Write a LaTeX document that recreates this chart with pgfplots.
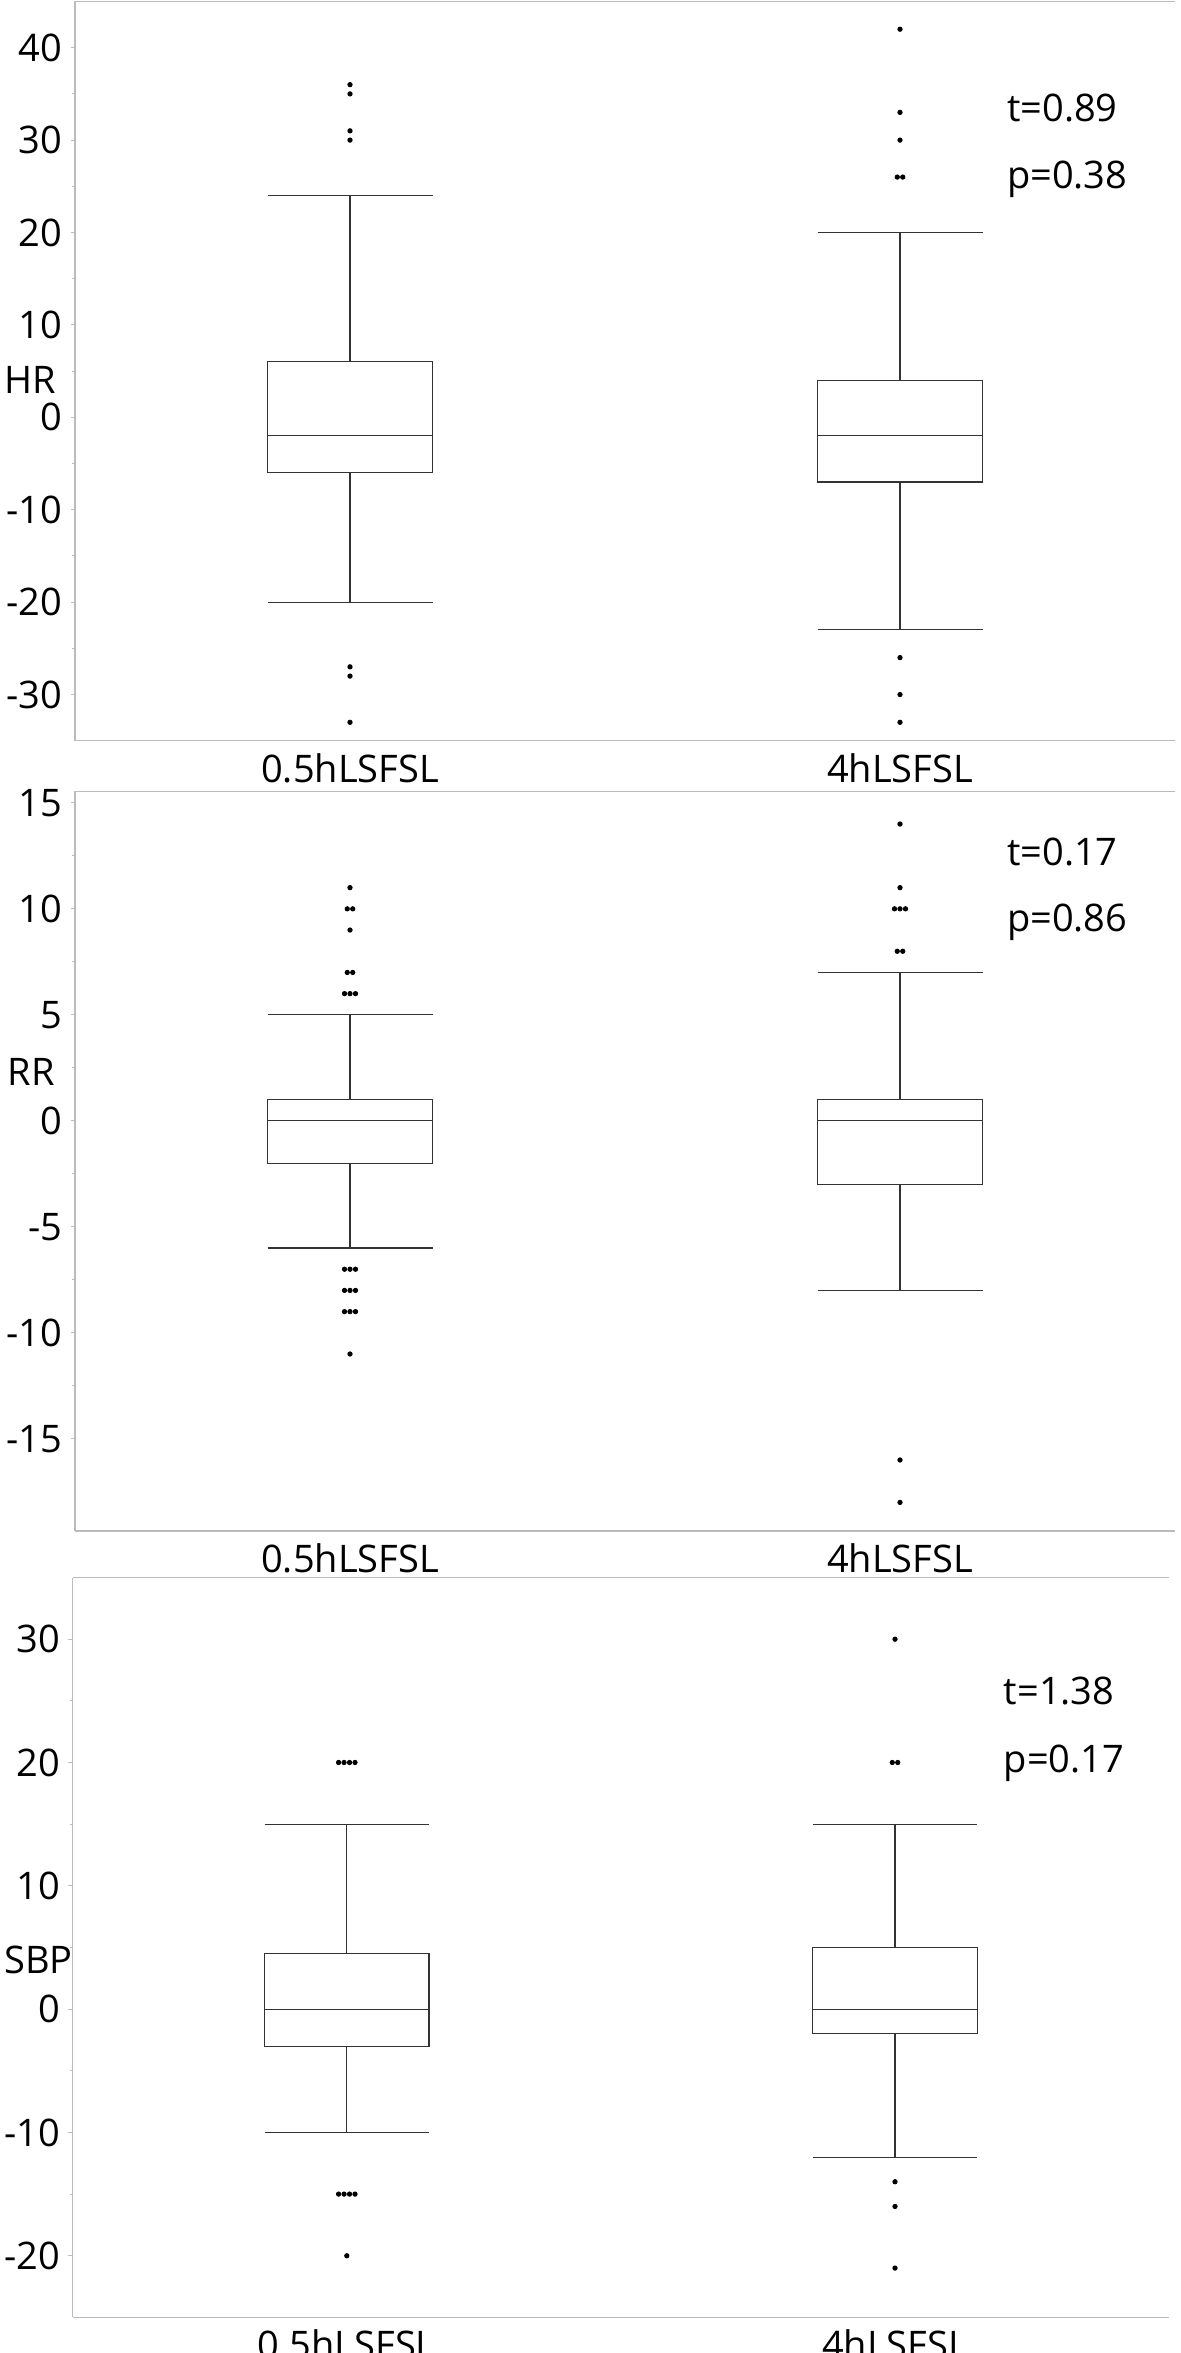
\documentclass[border=0pt]{standalone}
\usepackage{fontspec}
\setmainfont{Open Sans}
\usepackage{pgfplots}
\pgfplotsset{compat=1.18}
\usepgfplotslibrary{statistics}
\definecolor{axiscol}{HTML}{BBBBBB}
\definecolor{boxcol}{HTML}{333333}
\newcommand{\fs}{\fontsize{19}{23}\selectfont}
\pgfplotsset{
  panel/.style={
    scale only axis,
    xmin=0.5, xmax=2.5,
    axis x line*=bottom, axis y line*=left,
    axis line style={draw=axiscol, line width=0.6pt},
    xtick={1,2}, xticklabels={0.5hLSFSL, 4hLSFSL},
    x tick style={draw=none},
    xticklabel style={anchor=base, inner sep=0pt, yshift=-18.5pt},
    y tick style={draw=axiscol, line width=0.5pt},
    tick align=outside,
    major tick length=2.2pt, minor tick length=1.5pt,
    minor y tick num=1,
    yticklabel style={inner sep=0pt, xshift=-4pt},
    /pgf/number format/assume math mode=true,
    tick label style={font=\fs},
    label style={font=\fs},
    ylabel style={rotate=-90, anchor=west, inner sep=0pt},
    boxplot/draw direction=y,
    clip=false,
  },
  bx/.style={draw=boxcol, line width=0.6pt, solid},
  out/.style={only marks, mark=*, mark size=1.1pt, black},
}
\newcommand{\stat}[2]{\node[anchor=base west, inner sep=0pt, font=\fs] at (axis description cs:#1) {#2};}
\begin{document}
\begin{tikzpicture}
% ---------- HR ----------
\begin{axis}[panel, anchor=north west, at={(37.5pt,-0.75pt)},
  width=550pt, height=369.65pt,
  ymin=-35, ymax=45, ytick={-30,-20,...,40},
  ylabel={HR}, ylabel style={at={(axis description cs:0,0.488)}, xshift=-35.5pt}]
\draw[axiscol, line width=0.6pt] (rel axis cs:0,1) -- (rel axis cs:1,1);
\addplot[bx, boxplot prepared={draw position=1, median=-2, upper quartile=6,
  lower quartile=-6, upper whisker=24, lower whisker=-20,
  box extend=0.3, whisker extend=0.3}] coordinates {};
\addplot[bx, boxplot prepared={draw position=2, median=-2, upper quartile=4,
  lower quartile=-7, upper whisker=20, lower whisker=-23,
  box extend=0.3, whisker extend=0.3}] coordinates {};
\addplot[out] coordinates {(1,36) (1,35) (1,31) (1,30) (1,-27) (1,-28) (1,-33)};
\addplot[out] coordinates {(2,42) (2,33) (2,30) (1.995,26) (2.005,26) (2,-26) (2,-30) (2,-33)};
\stat{0.847,0.838}{t=0.89}
\stat{0.847,0.747}{p=0.38}
\end{axis}
% ---------- RR ----------
\begin{axis}[panel, anchor=north west, at={(37.5pt,-395.6pt)},
  width=550pt, height=369.9pt,
  ymin=-19.35, ymax=15.55, ytick={-15,-10,...,15},
  ylabel={RR}, ylabel style={at={(axis description cs:0,0.62)}, xshift=-33.7pt}]
\draw[axiscol, line width=0.6pt] (rel axis cs:0,1) -- (rel axis cs:1,1);
\addplot[bx, boxplot prepared={draw position=1, median=0, upper quartile=1,
  lower quartile=-2, upper whisker=5, lower whisker=-6,
  box extend=0.3, whisker extend=0.3}] coordinates {};
\addplot[bx, boxplot prepared={draw position=2, median=0, upper quartile=1,
  lower quartile=-3, upper whisker=7, lower whisker=-8,
  box extend=0.3, whisker extend=0.3}] coordinates {};
\addplot[out] coordinates {(1,11) (0.995,10) (1.005,10) (1,9) (0.995,7) (1.005,7)
  (0.99,6) (1,6) (1.01,6) (0.99,-7) (1,-7) (1.01,-7) (0.99,-8) (1,-8) (1.01,-8)
  (0.99,-9) (1,-9) (1.01,-9) (1,-11)};
\addplot[out] coordinates {(2,14) (2,11) (1.99,10) (2,10) (2.01,10) (1.995,8) (2.005,8)
  (2,-16) (2,-18)};
\stat{0.847,0.899}{t=0.17}
\stat{0.847,0.81}{p=0.86}
\end{axis}
% ---------- SBP ----------
\begin{axis}[panel, anchor=north west, at={(36.35pt,-788.75pt)},
  width=548.2pt, height=369.95pt,
  ymin=-25, ymax=35, ytick={-20,-10,...,30},
  ylabel={SBP}, ylabel style={at={(axis description cs:0,0.483)}, xshift=-34.45pt}]
\draw[axiscol, line width=0.6pt] (rel axis cs:0,1) -- (rel axis cs:1,1);
\addplot[bx, boxplot prepared={draw position=1, median=0, upper quartile=4.5,
  lower quartile=-3, upper whisker=15, lower whisker=-10,
  box extend=0.3, whisker extend=0.3}] coordinates {};
\addplot[bx, boxplot prepared={draw position=2, median=0, upper quartile=5,
  lower quartile=-2, upper whisker=15, lower whisker=-12,
  box extend=0.3, whisker extend=0.3}] coordinates {};
\addplot[out] coordinates {(0.985,20) (0.995,20) (1.005,20) (1.015,20)
  (0.985,-15) (0.995,-15) (1.005,-15) (1.015,-15) (1,-20)};
\addplot[out] coordinates {(2,30) (1.995,20) (2.005,20) (2,-14) (2,-16) (2,-21)};
\stat{0.849,0.828}{t=1.38}
\stat{0.849,0.737}{p=0.17}
\end{axis}
\pgfresetboundingbox
\path[use as bounding box] (0,0) rectangle (590.5pt,-1176.5pt);
\end{tikzpicture}
\end{document}
